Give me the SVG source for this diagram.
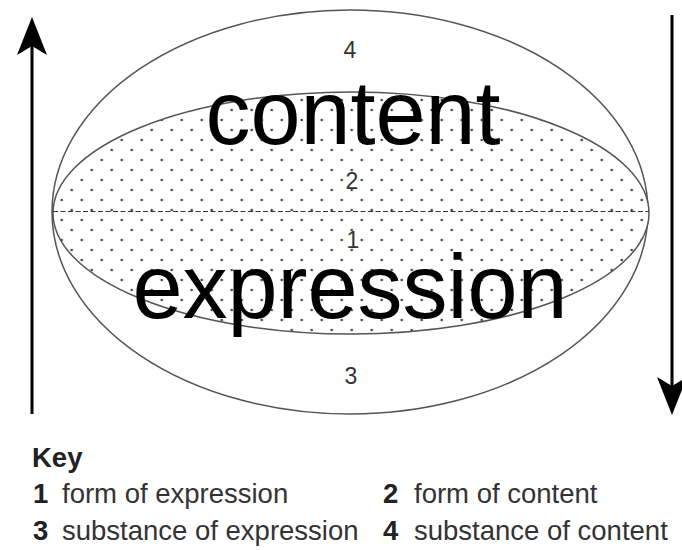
<svg xmlns="http://www.w3.org/2000/svg" width="682" height="550" viewBox="0 0 682 550">
  <style>
    .ell { stroke: #555; stroke-width: 1.5; }
    .num { font-family: "Liberation Sans", Arial, sans-serif; font-size: 23px; fill: #333; text-anchor: middle; }
    .big { font-family: "Liberation Sans", Arial, sans-serif; font-size: 90px; fill: #000; text-anchor: middle; }
    .key { font-family: "Liberation Sans", Arial, sans-serif; font-size: 27.5px; fill: #333; }
    .keyn { font-family: "Liberation Sans", Arial, sans-serif; font-size: 27.5px; font-weight: bold; fill: #222; }
    .arrow { stroke: #000; stroke-width: 3; fill: none; }
    .head { fill: #000; }
  </style>
  <defs>
    <pattern id="dots" width="20" height="20" patternUnits="userSpaceOnUse" x="-3.3" y="-5">
      <rect width="20" height="20" fill="#fff"/>
      <circle cx="5" cy="5" r="1.3" fill="#444"/>
      <circle cx="15" cy="15" r="1.3" fill="#444"/>
    </pattern>
  </defs>
  <rect width="682" height="550" fill="#fff"/>

  <g id="outer-ellipse">
    <ellipse cx="350" cy="212" rx="298" ry="202" class="ell" style="fill:#fff"/>
    <text class="num" x="350" y="58">4</text>
    <text class="num" x="351" y="384">3</text>
  </g>

  <g id="inner-ellipse">
    <ellipse cx="351" cy="213" rx="298" ry="121" class="ell" style="fill:url(#dots)"/>
    <line x1="53" y1="211.5" x2="649" y2="211.5" stroke="#333" stroke-width="1.2" stroke-dasharray="5,2.5"/>
    <text class="num" x="352" y="189">2</text>
    <text class="num" x="353" y="248">1</text>
  </g>

  <g id="content-label">
    <text class="big" x="353" y="144">content</text>
  </g>
  <g id="expression-label">
    <text class="big" x="350" y="318">expression</text>
  </g>

  <g id="connectors">
    <line class="arrow" x1="32" y1="414" x2="32" y2="40"/>
    <path class="head" d="M32,17 L47,55 L32,46 L17,55 Z"/>
    <line class="arrow" x1="672" y1="15" x2="672" y2="392"/>
    <path class="head" d="M672,415 L657,377 L672,386 L687,377 Z"/>
  </g>

  <g id="key">
    <text class="keyn" x="32" y="467" font-size="25">Key</text>
    <text class="keyn" x="33" y="503">1</text>
    <text class="key" x="62" y="503">form of expression</text>
    <text class="keyn" x="383" y="503">2</text>
    <text class="key" x="414" y="503">form of content</text>
    <text class="keyn" x="33" y="540">3</text>
    <text class="key" x="62" y="540">substance of expression</text>
    <text class="keyn" x="383" y="540">4</text>
    <text class="key" x="414" y="540">substance of content</text>
  </g>
</svg>
